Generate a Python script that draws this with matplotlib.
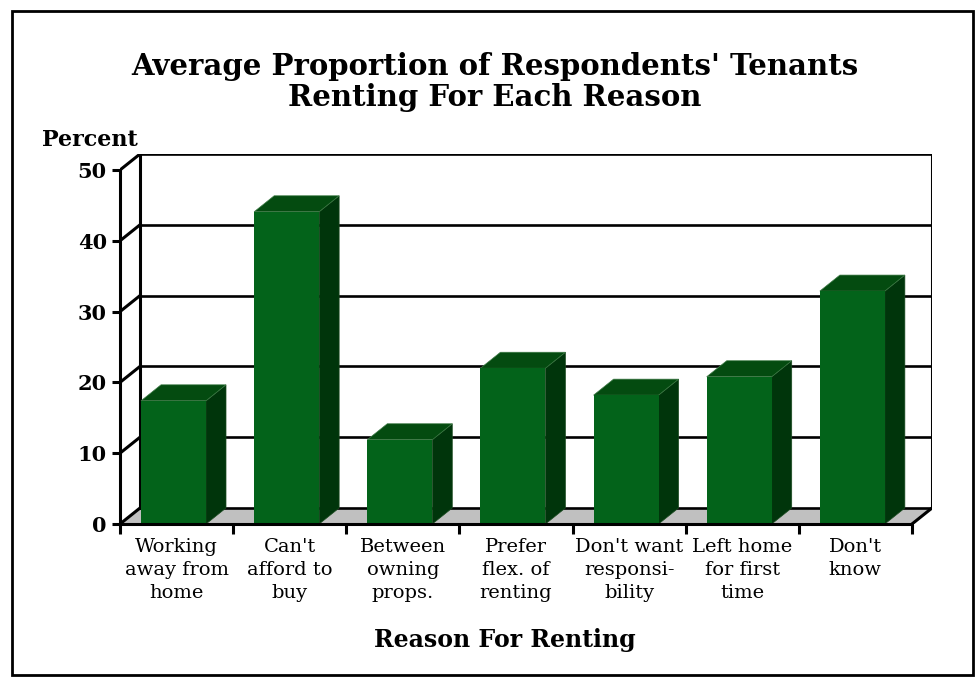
import matplotlib.pyplot as plt
from matplotlib.patches import Polygon, Rectangle

reasons = ["Working\naway from\nhome", "Can't\nafford to\nbuy", "Between\nowning\nprops.",
           "Prefer\nflex. of\nrenting", "Don't want\nresponsi-\nbility", "Left home\nfor first\ntime",
           "Don't\nknow"]
percent = [17.4, 44.1, 11.9, 22.0, 18.2, 20.8, 32.9]
yticks = [0, 10, 20, 30, 40, 50]

front_col = '#03631a'
top_col = '#044b10'
side_col = '#00350b'
floor_col = '#c0c0c0'

plt.rcParams['font.family'] = ['DejaVu Serif']

W, H = 976, 677
fig = plt.figure(figsize=(W / 100, H / 100), dpi=100)

n = len(reasons)
dx = 20 / 113.14   # depth shift in category units
dy = 16 / 7.08     # depth shift in percent units
ymax = 50

# axes placed so the front plane runs 120..912 px, 0..50 -> 524..170 px
ax = fig.add_axes([120 / W, (H - 524) / H, (932 - 120) / W, (524 - 154) / H])
ax.set_xlim(0, n + dx)
ax.set_ylim(0, ymax + dy)
ax.patch.set_visible(False)

lw = 2.2

# floor
ax.add_patch(Polygon([(0, 0), (n, 0), (n + dx, dy), (dx, dy)], closed=True,
                     facecolor=floor_col, edgecolor='none', zorder=1))

# back wall grid + left side diagonals
for v in yticks:
    ax.plot([dx, n + dx], [v + dy, v + dy], color='black', lw=1.9, zorder=2, solid_capstyle='butt')
    ax.plot([0, dx], [v, v + dy], color='black', lw=lw, zorder=2)
ax.plot([dx, dx], [dy, ymax + dy], color='black', lw=lw, zorder=2)
ax.plot([n + dx, n + dx], [dy, ymax + dy], color='black', lw=lw, zorder=2)
ax.plot([n, n + dx], [0, dy], color='black', lw=lw, zorder=2)

# 3d bars
x0, bw = 21 / 113.14, 65 / 113.14
for i, v in enumerate(percent):
    xl = i + x0
    xr = xl + bw
    ax.add_patch(Polygon([(xr, 0), (xr + dx, dy), (xr + dx, v + dy), (xr, v)], closed=True,
                         facecolor=side_col, edgecolor='#1a4a1f', lw=0.5, zorder=3))
    ax.add_patch(Polygon([(xl, v), (xr, v), (xr + dx, v + dy), (xl + dx, v + dy)], closed=True,
                         facecolor=top_col, edgecolor='#3d7a45', lw=0.5, zorder=3))
    ax.add_patch(Rectangle((xl, 0), bw, v, facecolor=front_col, edgecolor='none', zorder=4))

# front axes
for s in ['top', 'right']:
    ax.spines[s].set_visible(False)
ax.spines['left'].set_bounds(0, ymax)
ax.spines['bottom'].set_bounds(0, n)
for s in ['left', 'bottom']:
    ax.spines[s].set_linewidth(lw)
    ax.spines[s].set_zorder(5)

ax.set_yticks(yticks)
ax.set_yticklabels([str(t) for t in yticks], fontsize=15, fontweight='bold')
ax.tick_params(axis='y', length=5.5, width=lw, pad=4)

ax.set_xticks(range(n + 1))
ax.set_xticklabels([])
ax.set_xticks([i + 0.5 for i in range(n)], minor=True)
ax.set_xticklabels(reasons, minor=True, fontsize=14, linespacing=1.35)
ax.tick_params(axis='x', which='major', length=7, width=lw)
ax.tick_params(axis='x', which='minor', length=0, pad=10)

fig.text(42 / W, 1 - 140 / H, 'Percent', fontsize=16, fontweight='bold', va='center', ha='left')
fig.text(505 / W, 1 - 640 / H, 'Reason For Renting', fontsize=17, fontweight='bold',
         ha='center', va='center')
fig.text(495 / W, 1 - 82 / H, "Average Proportion of Respondents' Tenants\nRenting For Each Reason",
         fontsize=21, fontweight='bold', ha='center', va='center', linespacing=1.1)

# outer frame
fig.patches.append(Rectangle((12 / W, 1 - 675 / H), (973 - 12) / W, (675 - 11) / H,
                             transform=fig.transFigure, fill=False, edgecolor='black', lw=2))

fig.savefig('out.png', dpi=100)
